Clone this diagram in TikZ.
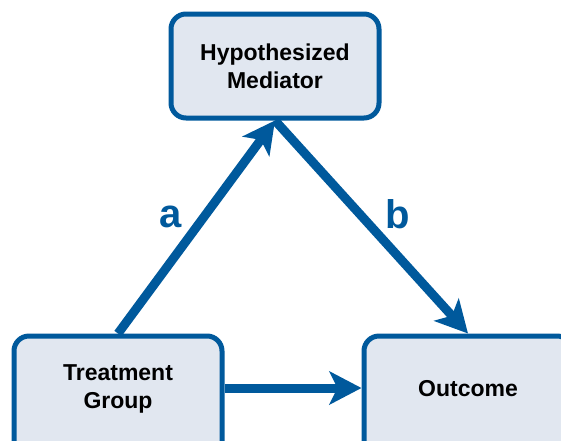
\documentclass[tikz,border=0pt]{standalone}
\usepackage{fontspec}
\setmainfont{Liberation Sans}
\usepackage{xcolor}
\usetikzlibrary{positioning,arrows.meta}

\definecolor{medblue}{HTML}{00599C}
\definecolor{boxfill}{HTML}{E1E7F0}

\begin{document}
\begin{tikzpicture}[
    x=1pt, y=-1pt,
    box/.style={draw=medblue, fill=boxfill, line width=5pt, rounded corners=15pt,
                minimum width=208pt, minimum height=104pt, align=center,
                font=\fontsize{23}{28}\selectfont\bfseries},
    lowbox/.style={box, minimum height=124pt},
    arrow/.style={-{Stealth[length=32pt, width=33pt, inset=8pt]}, line width=9pt, draw=medblue},
    pathlabel/.style={font=\fontsize{40}{40}\selectfont\bfseries, text=medblue, anchor=base},
  ]
  \useasboundingbox (0,0) rectangle (561,440);

  % Boxes (the lower two run off the bottom edge)
  \node[box] (mediator) at (275,66) {Hypothesized\\Mediator};
  \node[lowbox, text depth=23pt] (treatment) at (118,398) {Treatment\\Group};
  \node[lowbox, text depth=18.5pt] (outcome) at (468,398) {Outcome};

  % Arrows
  \draw[arrow] (treatment.north) -- (mediator.south);
  \draw[arrow] (mediator.south) -- (outcome.north);
  \draw[arrow] ([yshift=10pt]treatment.east) -- ([yshift=10pt]outcome.west);

  % Labels
  \node[pathlabel] (alabel) at (171,227) {a};
  \node[pathlabel] (blabel) at (398,228) {b};

\end{tikzpicture}
\end{document}
